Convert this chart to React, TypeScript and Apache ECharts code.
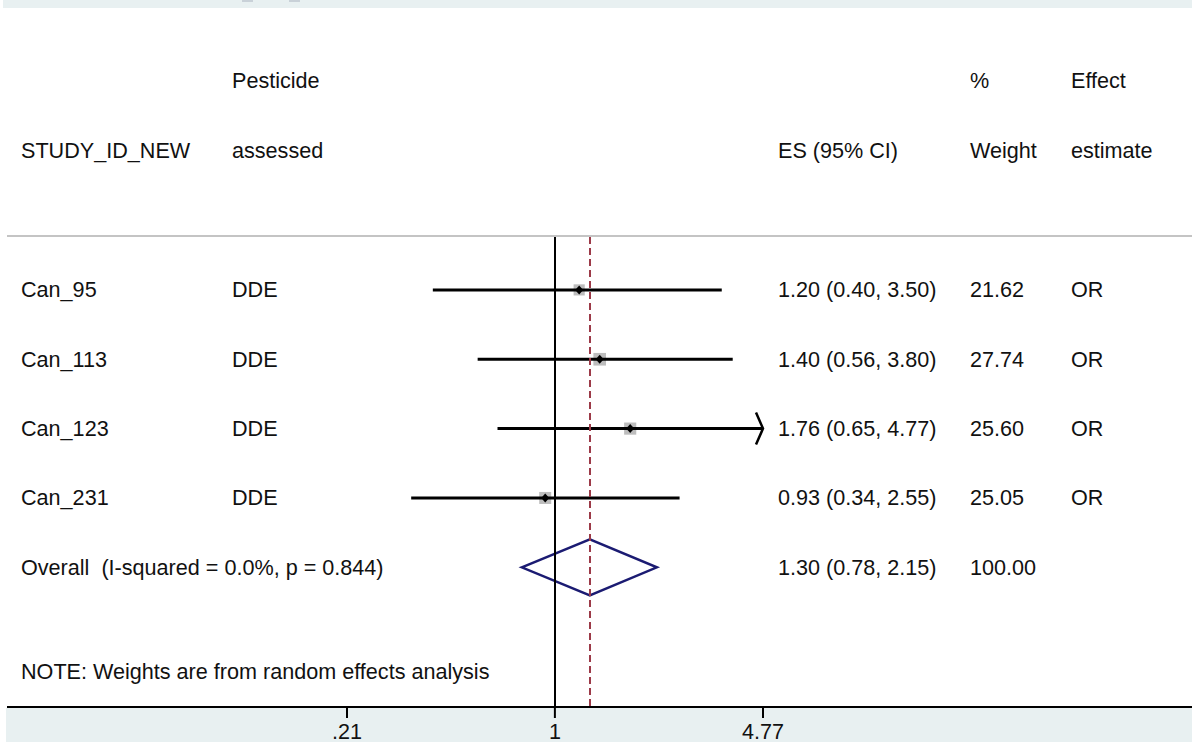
import React, { useEffect, useRef } from "react";
import * as echarts from "echarts";

// ---- data ----
const studies = ["Can_95", "Can_113", "Can_123", "Can_231"];
const pesticides = ["DDE", "DDE", "DDE", "DDE"];
const esValues = [1.2, 1.4, 1.76, 0.93];
const ciLower = [0.4, 0.56, 0.65, 0.34];
const ciUpper = [3.5, 3.8, 4.77, 2.55];
const weights = [21.62, 27.74, 25.6, 25.05];
const effects = ["OR", "OR", "OR", "OR"];

const overallLabel = "Overall  (I-squared = 0.0%, p = 0.844)";
const overallES = 1.3;
const overallLower = 0.78;
const overallUpper = 2.15;
const overallWeight = 100.0;

const noteText = "NOTE: Weights are from random effects analysis";

const headerTop = ["", "Pesticide", "", "%", "Effect"];
const headerBottom = ["STUDY_ID_NEW", "assessed", "ES (95% CI)", "Weight", "estimate"];

const tickValues = [0.21, 1, 4.77];
const tickLabels = [".21", "1", "4.77"];
const axisMin = 0.21;
const axisMax = 4.77;

// ---- layout ----
const FONT = "'Liberation Sans', Arial, sans-serif";
const FS = 21.6;
const TXT = "#111";
const COLS = [21, 232, 778, 970, 1071];
const LN_MIN = Math.log(axisMin);
const LN_MAX = Math.log(axisMax);
const Y_MIN = -0.763;
const Y_MAX = 6.0;

const fmtCI = (e: number, l: number, u: number) =>
  `${e.toFixed(2)} (${l.toFixed(2)}, ${u.toFixed(2)})`;

const txt = (x: number, y: number, text: string) => ({
  type: "text",
  x,
  y,
  style: { text, fontSize: FS, fontFamily: FONT, fill: TXT, verticalAlign: "middle", align: "left" },
});

export default function App() {
  const ref = useRef<HTMLDivElement>(null);
  useEffect(() => {
    if (!ref.current) return;
    const chart = echarts.init(ref.current, null, { renderer: "svg" });

    const studyData = studies.map((_, i) => [
      i,
      Math.log(esValues[i]),
      Math.log(ciLower[i]),
      Math.log(ciUpper[i]),
      weights[i],
    ]);
    const overallData = [[4, Math.log(overallES), Math.log(overallLower), Math.log(overallUpper), overallWeight]];

    const graphics: any[] = [
      { type: "rect", z: -10, shape: { x: 3, y: 0, width: 1189, height: 8 }, style: { fill: "#e8f0f1" } },
      { type: "rect", z: -9, shape: { x: 242, y: 0, width: 11, height: 2 }, style: { fill: "#c9d1d8" } },
      { type: "rect", z: -9, shape: { x: 289, y: 0, width: 11, height: 2 }, style: { fill: "#c9d1d8" } },
      { type: "rect", z: -10, shape: { x: 6, y: 708, width: 1186, height: 34 }, style: { fill: "#e8f0f1" } },
      { type: "line", z: 10, shape: { x1: 7, y1: 707, x2: 1192, y2: 707 }, style: { stroke: "#000", lineWidth: 2 } },
      { type: "line", z: 1, shape: { x1: 7, y1: 236, x2: 1192, y2: 236 }, style: { stroke: "#c4c4c4", lineWidth: 2 } },
    ];
    headerTop.forEach((h, k) => {
      if (h) graphics.push(txt(COLS[k], 80, h));
    });
    headerBottom.forEach((h, k) => graphics.push(txt(COLS[k], 150, h)));

    const option: any = {
      animation: false,
      grid: { left: 347, right: 429, top: 237, bottom: 35 },
      xAxis: {
        type: "value",
        min: LN_MIN,
        max: LN_MAX,
        splitLine: { show: false },
        axisLine: { show: false },
        axisTick: { show: false },
        axisLabel: {
          show: true,
          margin: 14,
          fontSize: FS,
          fontFamily: FONT,
          color: TXT,
          verticalAlign: "top",
          customValues: tickValues.map((v) => Math.log(v)),
          formatter: (v: number) => {
            let best = 0;
            tickValues.forEach((t, k) => {
              if (Math.abs(Math.log(t) - v) < Math.abs(Math.log(tickValues[best]) - v)) best = k;
            });
            return tickLabels[best];
          },
        },
      },
      yAxis: { type: "value", inverse: true, min: Y_MIN, max: Y_MAX, show: false },
      graphic: graphics,
      series: [
        {
          type: "line",
          data: [],
          z: 1,
          silent: true,
          markLine: {
            silent: true,
            symbol: "none",
            label: { show: false },
            data: [
              { xAxis: 0, lineStyle: { color: "#000", width: 2, type: "solid" } },
              { xAxis: Math.log(overallES), lineStyle: { color: "#9c3a48", width: 2, type: [7, 4] } },
            ],
          },
        },
        {
          // axis ticks
          type: "custom",
          z: 5,
          silent: true,
          data: tickValues.map((v) => [Math.log(v)]),
          renderItem: (params: any, api: any) => {
            const [x, y] = api.coord([api.value(0), Y_MAX]);
            return {
              type: "line",
              shape: { x1: x, y1: y, x2: x, y2: y + 12 },
              style: { stroke: "#000", lineWidth: 2 },
            };
          },
        },
        {
          type: "custom",
          z: 3,
          data: studyData,
          renderItem: (params: any, api: any) => {
            const i = api.value(0);
            const e = api.value(1);
            const lo = api.value(2);
            const hi = api.value(3);
            const w = api.value(4);
            const [cx, cy] = api.coord([e, i]);
            const xl = api.coord([Math.max(lo, LN_MIN), i])[0];
            const xr = api.coord([Math.min(hi, LN_MAX), i])[0];
            const s = 2.4 * Math.sqrt(w);
            const children: any[] = [
              { type: "rect", shape: { x: cx - s / 2, y: cy - s / 2, width: s, height: s }, style: { fill: "#bdbdbd" } },
              { type: "line", shape: { x1: xl, y1: cy, x2: xr, y2: cy }, style: { stroke: "#000", lineWidth: 3 } },
              {
                type: "polygon",
                shape: { points: [[cx - 4, cy], [cx, cy - 4.5], [cx + 4, cy], [cx, cy + 4.5]] },
                style: { fill: "#000" },
              },
            ];
            if (hi >= LN_MAX - 1e-9) {
              children.push({
                type: "polyline",
                shape: { points: [[xr - 7, cy - 16], [xr, cy], [xr - 7, cy + 16]] },
                style: { stroke: "#000", lineWidth: 2.5, fill: null },
              });
            }
            const idx = params.dataIndex;
            children.push(txt(COLS[0], cy, studies[idx]));
            children.push(txt(COLS[1], cy, pesticides[idx]));
            children.push(txt(COLS[2], cy, fmtCI(esValues[idx], ciLower[idx], ciUpper[idx])));
            children.push(txt(COLS[3], cy, weights[idx].toFixed(2)));
            children.push(txt(COLS[4], cy, effects[idx]));
            return { type: "group", children };
          },
        },
        {
          type: "custom",
          z: 3,
          data: overallData,
          renderItem: (params: any, api: any) => {
            const i = api.value(0);
            const [cx, cy] = api.coord([api.value(1), i]);
            const xl = api.coord([api.value(2), i])[0];
            const xr = api.coord([api.value(3), i])[0];
            const h = 28;
            return {
              type: "group",
              children: [
                {
                  type: "polygon",
                  shape: { points: [[xl, cy], [cx, cy - h], [xr, cy], [cx, cy + h]] },
                  style: { stroke: "#1b1b72", lineWidth: 2.5, fill: null },
                },
                txt(COLS[0], cy, overallLabel),
                txt(COLS[2], cy, fmtCI(overallES, overallLower, overallUpper)),
                txt(COLS[3], cy, overallWeight.toFixed(2)),
              ],
            };
          },
        },
        {
          type: "custom",
          z: 3,
          data: [[5.5]],
          renderItem: (params: any, api: any) => {
            const cy = api.coord([0, api.value(0)])[1];
            return { type: "group", children: [txt(COLS[0], cy, noteText)] };
          },
        },
      ],
    };
    chart.setOption(option);
    return () => chart.dispose();
  }, []);
  return (
    <div
      ref={ref}
      style={{ position: "absolute", left: 0, top: 0, width: 1192, height: 742, background: "#fff" }}
    />
  );
}
